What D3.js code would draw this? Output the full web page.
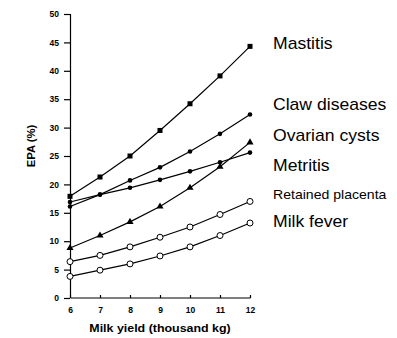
<!DOCTYPE html>
<html>
<head>
<meta charset="utf-8">
<script src="https://cdn.jsdelivr.net/npm/d3@7"></script>
<style>
  body { margin: 0; background: #fff; }
  .tick text { font-family: Arial, "Liberation Sans", sans-serif; font-weight: bold; font-size: 8.5px; }
  .axis-label { font-family: Arial, "Liberation Sans", sans-serif; font-weight: bold; font-size: 11.3px; }
  .series-label { font-family: Arial, "Liberation Sans", sans-serif; font-size: 16px; }
</style>
</head>
<body>
<div id="chart"></div>
<script>
// milk yield in thousand kg
const milkYield = [6, 7, 8, 9, 10, 11, 12];

const mastitis = [17.9, 21.3, 25.0, 29.5, 34.2, 39.1, 44.3];
const clawDiseases = [16.1, 18.2, 20.7, 23.0, 25.8, 28.9, 32.3];
const ovarianCysts = [8.8, 11.0, 13.4, 16.1, 19.4, 23.1, 27.4];
const metritis = [16.9, 18.2, 19.4, 20.8, 22.3, 23.9, 25.6];
const retainedPlacenta = [6.4, 7.5, 9.0, 10.7, 12.5, 14.7, 17.0];
const milkFever = [3.8, 4.9, 6.0, 7.4, 9.0, 11.0, 13.2];

const yTicks = [0, 5, 10, 15, 20, 25, 30, 35, 40, 45, 50];

const series = [
  { name: "Mastitis", values: mastitis, marker: "square", label: 43, size: 16 },
  { name: "Claw diseases", values: clawDiseases, marker: "dot", label: 104, size: 16 },
  { name: "Ovarian cysts", values: ovarianCysts, marker: "triangle", label: 135, size: 16 },
  { name: "Metritis", values: metritis, marker: "dot", label: 165.5, size: 16 },
  { name: "Retained placenta", values: retainedPlacenta, marker: "open", label: 195, size: 12.8 },
  { name: "Milk fever", values: milkFever, marker: "open", label: 221.5, size: 16 }
];

const svgWidth = 397;
const svgHeight = 338;
const margin = { top: 14, right: 147, bottom: 40, left: 70 };
const width = svgWidth - margin.left - margin.right;
const height = svgHeight - margin.top - margin.bottom;

const svg = d3.select("#chart").append("svg")
  .attr("width", svgWidth)
  .attr("height", svgHeight);

const chart = svg.append("g")
  .attr("transform", `translate(${margin.left},${margin.top})`);

const x = d3.scaleLinear().domain([6, 12]).range([0, width]);
const y = d3.scaleLinear().domain([0, 50]).range([height, 0]);

// axes
const xAxis = chart.append("g")
  .attr("transform", `translate(0,${height})`)
  .call(d3.axisBottom(x).tickValues(milkYield).tickFormat(d3.format("d")).tickSize(-3).tickPadding(9));
xAxis.select(".domain").attr("d", `M0.5,0H${width + 0.5}`).attr("stroke-width", 1.2);
xAxis.selectAll(".tick line").attr("stroke-width", 1.2);

const yAxis = chart.append("g")
  .call(d3.axisLeft(y).tickValues(yTicks).tickSize(6).tickPadding(5));
yAxis.select(".domain").attr("d", `M0.5,${height}V0`).attr("stroke-width", 1.2);
yAxis.selectAll(".tick line").attr("stroke-width", 1.2);

svg.append("text")
  .attr("class", "axis-label")
  .attr("transform", `translate(${margin.left + width / 2},332) scale(1.1,1)`)
  .attr("text-anchor", "middle")
  .text("Milk yield (thousand kg)");

svg.append("text")
  .attr("class", "axis-label")
  .attr("transform", "translate(35,146) rotate(-90)")
  .attr("text-anchor", "middle")
  .text("EPA (%)");

const line = d3.line()
  .x((d, i) => x(milkYield[i]))
  .y(d => y(d));

series.forEach(s => {
  const g = chart.append("g");
  g.append("path")
    .attr("d", line(s.values))
    .attr("fill", "none")
    .attr("stroke", "#000")
    .attr("stroke-width", 1.2);

  const pts = g.selectAll(".pt")
    .data(s.values)
    .enter();

  if (s.marker === "square") {
    pts.append("rect")
      .attr("x", (d, i) => x(milkYield[i]) - 2.5)
      .attr("y", d => y(d) - 2.5)
      .attr("width", 5)
      .attr("height", 5)
      .attr("fill", "#000");
  } else if (s.marker === "dot") {
    pts.append("circle")
      .attr("cx", (d, i) => x(milkYield[i]))
      .attr("cy", d => y(d))
      .attr("r", 2.3)
      .attr("fill", "#000");
  } else if (s.marker === "triangle") {
    pts.append("path")
      .attr("d", d3.symbol(d3.symbolTriangle, 22))
      .attr("transform", (d, i) => `translate(${x(milkYield[i])},${y(d)})`)
      .attr("fill", "#000");
  } else {
    pts.append("circle")
      .attr("cx", (d, i) => x(milkYield[i]))
      .attr("cy", d => y(d))
      .attr("r", 3)
      .attr("fill", "#fff")
      .attr("stroke", "#000")
      .attr("stroke-width", 1);
  }
});

// series names on the right
svg.selectAll(".series-label")
  .data(series)
  .enter()
  .append("text")
  .attr("class", "series-label")
  .attr("transform", d => `translate(273,${d.label}) scale(1.1,1)`)
  .attr("dy", "0.35em")
  .style("font-size", d => d.size + "px")
  .text(d => d.name);
</script>
</body>
</html>
